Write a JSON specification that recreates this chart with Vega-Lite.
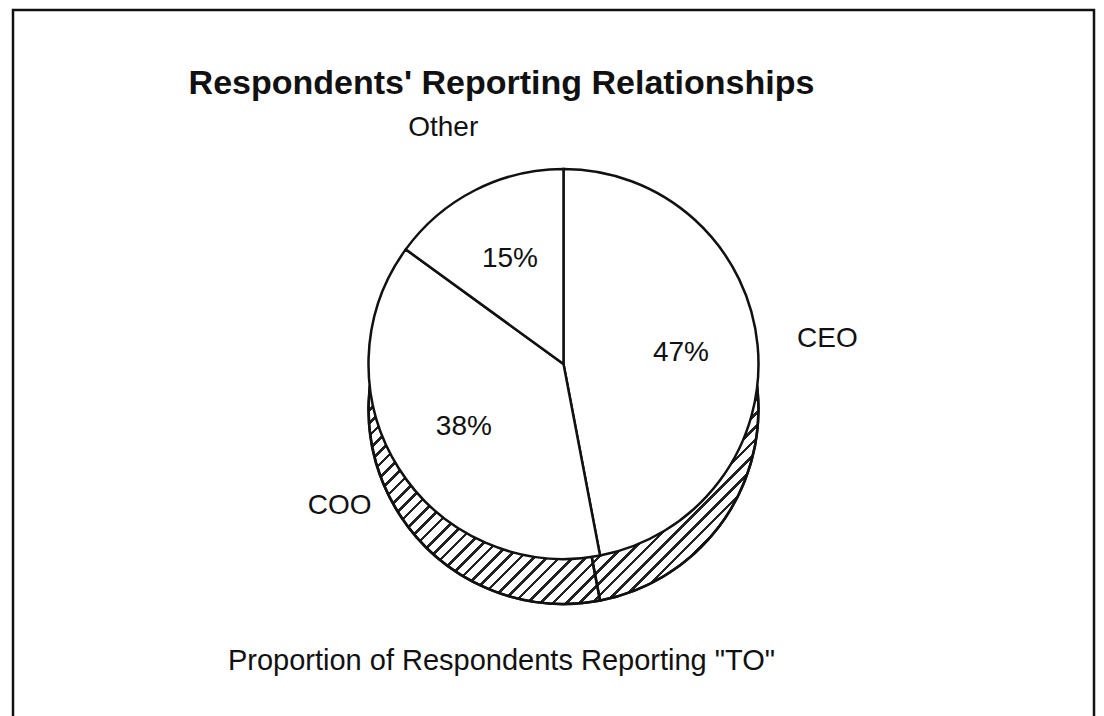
{
  "$schema": "https://vega.github.io/schema/vega-lite/v6.json",
  "width": 1104,
  "height": 716,
  "autosize": {"type": "fit", "contains": "padding"},
  "padding": {"left": 11, "top": 8, "right": 8, "bottom": -4},
  "background": "#ffffff",
  "title": {
    "text": "Respondents' Reporting Relationships",
    "subtitle": "Proportion of Respondents Reporting \"TO\"",
    "anchor": "middle",
    "dx": -52,
    "offset": -667,
    "font": "Liberation Sans",
    "fontSize": 34,
    "fontWeight": "bold",
    "color": "#111111",
    "subtitleFont": "Liberation Sans",
    "subtitleFontSize": 29,
    "subtitleColor": "#111111",
    "subtitlePadding": 546
  },
  "config": {"view": {"stroke": null}},
  "data": {
    "values": [
      {"role": "CEO", "share": 0.47},
      {"role": "COO", "share": 0.38},
      {"role": "Other", "share": 0.15}
    ]
  },
  "layer": [
    {
      "data": {"values": [{"frame": "border"}]},
      "mark": {"type": "rect", "fill": "#ffffff", "stroke": "#111111", "strokeWidth": 2.5},
      "encoding": {}
    },
    {
      "mark": {
        "type": "arc",
        "radius": 195,
        "yOffset": 45,
        "xOffset": 10,
        "stroke": "#111111",
        "strokeWidth": 2.5,
        "fill": {
          "gradient": "linear",
          "x1": 0, "y1": 0, "x2": 1, "y2": 1,
          "stops": [
            {"offset": 0, "color": "#fff"}, {"offset": 0.2167, "color": "#fff"},
            {"offset": 0.2167, "color": "#222"}, {"offset": 0.2212, "color": "#222"}, {"offset": 0.2212, "color": "#fff"}, {"offset": 0.2333, "color": "#fff"},
            {"offset": 0.2333, "color": "#222"}, {"offset": 0.2378, "color": "#222"}, {"offset": 0.2378, "color": "#fff"}, {"offset": 0.25, "color": "#fff"},
            {"offset": 0.25, "color": "#222"}, {"offset": 0.2545, "color": "#222"}, {"offset": 0.2545, "color": "#fff"}, {"offset": 0.2667, "color": "#fff"},
            {"offset": 0.2667, "color": "#222"}, {"offset": 0.2712, "color": "#222"}, {"offset": 0.2712, "color": "#fff"}, {"offset": 0.2833, "color": "#fff"},
            {"offset": 0.2833, "color": "#222"}, {"offset": 0.2878, "color": "#222"}, {"offset": 0.2878, "color": "#fff"}, {"offset": 0.3, "color": "#fff"},
            {"offset": 0.3, "color": "#222"}, {"offset": 0.3045, "color": "#222"}, {"offset": 0.3045, "color": "#fff"}, {"offset": 0.3167, "color": "#fff"},
            {"offset": 0.3167, "color": "#222"}, {"offset": 0.3212, "color": "#222"}, {"offset": 0.3212, "color": "#fff"}, {"offset": 0.3333, "color": "#fff"},
            {"offset": 0.3333, "color": "#222"}, {"offset": 0.3378, "color": "#222"}, {"offset": 0.3378, "color": "#fff"}, {"offset": 0.35, "color": "#fff"},
            {"offset": 0.35, "color": "#222"}, {"offset": 0.3545, "color": "#222"}, {"offset": 0.3545, "color": "#fff"}, {"offset": 0.3667, "color": "#fff"},
            {"offset": 0.3667, "color": "#222"}, {"offset": 0.3712, "color": "#222"}, {"offset": 0.3712, "color": "#fff"}, {"offset": 0.3833, "color": "#fff"},
            {"offset": 0.3833, "color": "#222"}, {"offset": 0.3878, "color": "#222"}, {"offset": 0.3878, "color": "#fff"}, {"offset": 0.4, "color": "#fff"},
            {"offset": 0.4, "color": "#222"}, {"offset": 0.4045, "color": "#222"}, {"offset": 0.4045, "color": "#fff"}, {"offset": 0.4167, "color": "#fff"},
            {"offset": 0.4167, "color": "#222"}, {"offset": 0.4212, "color": "#222"}, {"offset": 0.4212, "color": "#fff"}, {"offset": 0.4333, "color": "#fff"},
            {"offset": 0.4333, "color": "#222"}, {"offset": 0.4378, "color": "#222"}, {"offset": 0.4378, "color": "#fff"}, {"offset": 0.45, "color": "#fff"},
            {"offset": 0.45, "color": "#222"}, {"offset": 0.4545, "color": "#222"}, {"offset": 0.4545, "color": "#fff"}, {"offset": 0.4667, "color": "#fff"},
            {"offset": 0.4667, "color": "#222"}, {"offset": 0.4712, "color": "#222"}, {"offset": 0.4712, "color": "#fff"}, {"offset": 0.4833, "color": "#fff"},
            {"offset": 0.4833, "color": "#222"}, {"offset": 0.4878, "color": "#222"}, {"offset": 0.4878, "color": "#fff"}, {"offset": 0.5, "color": "#fff"},
            {"offset": 0.5, "color": "#222"}, {"offset": 0.5045, "color": "#222"}, {"offset": 0.5045, "color": "#fff"}, {"offset": 0.5167, "color": "#fff"},
            {"offset": 0.5167, "color": "#222"}, {"offset": 0.5212, "color": "#222"}, {"offset": 0.5212, "color": "#fff"}, {"offset": 0.5333, "color": "#fff"},
            {"offset": 0.5333, "color": "#222"}, {"offset": 0.5378, "color": "#222"}, {"offset": 0.5378, "color": "#fff"}, {"offset": 0.55, "color": "#fff"},
            {"offset": 0.55, "color": "#222"}, {"offset": 0.5545, "color": "#222"}, {"offset": 0.5545, "color": "#fff"}, {"offset": 0.5667, "color": "#fff"},
            {"offset": 0.5667, "color": "#222"}, {"offset": 0.5712, "color": "#222"}, {"offset": 0.5712, "color": "#fff"}, {"offset": 0.5833, "color": "#fff"},
            {"offset": 0.5833, "color": "#222"}, {"offset": 0.5878, "color": "#222"}, {"offset": 0.5878, "color": "#fff"}, {"offset": 0.6, "color": "#fff"},
            {"offset": 0.6, "color": "#222"}, {"offset": 0.6045, "color": "#222"}, {"offset": 0.6045, "color": "#fff"}, {"offset": 0.6167, "color": "#fff"},
            {"offset": 0.6167, "color": "#222"}, {"offset": 0.6212, "color": "#222"}, {"offset": 0.6212, "color": "#fff"}, {"offset": 0.6333, "color": "#fff"},
            {"offset": 0.6333, "color": "#222"}, {"offset": 0.6378, "color": "#222"}, {"offset": 0.6378, "color": "#fff"}, {"offset": 0.65, "color": "#fff"},
            {"offset": 0.65, "color": "#222"}, {"offset": 0.6545, "color": "#222"}, {"offset": 0.6545, "color": "#fff"}, {"offset": 0.6667, "color": "#fff"},
            {"offset": 0.6667, "color": "#222"}, {"offset": 0.6712, "color": "#222"}, {"offset": 0.6712, "color": "#fff"}, {"offset": 0.6833, "color": "#fff"},
            {"offset": 0.6833, "color": "#222"}, {"offset": 0.6878, "color": "#222"}, {"offset": 0.6878, "color": "#fff"}, {"offset": 0.7, "color": "#fff"},
            {"offset": 0.7, "color": "#222"}, {"offset": 0.7045, "color": "#222"}, {"offset": 0.7045, "color": "#fff"}, {"offset": 0.7167, "color": "#fff"},
            {"offset": 0.7167, "color": "#222"}, {"offset": 0.7212, "color": "#222"}, {"offset": 0.7212, "color": "#fff"}, {"offset": 0.7333, "color": "#fff"},
            {"offset": 0.7333, "color": "#222"}, {"offset": 0.7378, "color": "#222"}, {"offset": 0.7378, "color": "#fff"}, {"offset": 0.75, "color": "#fff"},
            {"offset": 0.75, "color": "#222"}, {"offset": 0.7545, "color": "#222"}, {"offset": 0.7545, "color": "#fff"}, {"offset": 0.7667, "color": "#fff"},
            {"offset": 0.7667, "color": "#222"}, {"offset": 0.7712, "color": "#222"}, {"offset": 0.7712, "color": "#fff"}, {"offset": 0.7833, "color": "#fff"},
            {"offset": 0.7833, "color": "#222"}, {"offset": 0.7878, "color": "#222"}, {"offset": 0.7878, "color": "#fff"}, {"offset": 0.8, "color": "#fff"},
            {"offset": 0.8, "color": "#222"}, {"offset": 0.8045, "color": "#222"}, {"offset": 0.8045, "color": "#fff"}, {"offset": 0.8167, "color": "#fff"},
            {"offset": 0.8167, "color": "#222"}, {"offset": 0.8212, "color": "#222"}, {"offset": 0.8212, "color": "#fff"}, {"offset": 0.8333, "color": "#fff"},
            {"offset": 0.8333, "color": "#222"}, {"offset": 0.8378, "color": "#222"}, {"offset": 0.8378, "color": "#fff"}, {"offset": 0.85, "color": "#fff"},
            {"offset": 0.85, "color": "#222"}, {"offset": 0.8545, "color": "#222"}, {"offset": 0.8545, "color": "#fff"}, {"offset": 0.8667, "color": "#fff"},
            {"offset": 0.8667, "color": "#222"}, {"offset": 0.8712, "color": "#222"}, {"offset": 0.8712, "color": "#fff"}, {"offset": 0.8833, "color": "#fff"},
            {"offset": 0.8833, "color": "#222"}, {"offset": 0.8878, "color": "#222"}, {"offset": 0.8878, "color": "#fff"}, {"offset": 1, "color": "#fff"}
          ]
        }
      },
      "encoding": {
        "theta": {"aggregate": "sum", "field": "share", "type": "quantitative", "stack": true}
      }
    },
    {
      "mark": {"type": "arc", "radius": 195, "yOffset": 45, "xOffset": 10, "fillOpacity": 0, "stroke": "#111111", "strokeWidth": 2.5},
      "encoding": {
        "theta": {"field": "share", "type": "quantitative", "stack": true},
        "order": {"field": "role", "type": "ordinal", "sort": "ascending"}
      }
    },
    {
      "mark": {"type": "arc", "radius": 195, "xOffset": 10, "fill": "#ffffff", "stroke": "#111111", "strokeWidth": 2.5},
      "encoding": {
        "theta": {"field": "share", "type": "quantitative", "stack": true},
        "order": {"field": "role", "type": "ordinal", "sort": "ascending"}
      }
    },
    {
      "mark": {"type": "text", "font": "Liberation Sans", "fontSize": 28, "color": "#111111", "xOffset": 10},
      "encoding": {
        "theta": {"field": "share", "type": "quantitative", "stack": true},
        "order": {"field": "role", "type": "ordinal", "sort": "ascending"},
        "radius": {"value": 118},
        "text": {"field": "share", "type": "quantitative", "format": ".0%"}
      }
    },
    {
      "mark": {"type": "text", "font": "Liberation Sans", "fontSize": 28, "color": "#111111", "xOffset": 10},
      "encoding": {
        "theta": {"field": "share", "type": "quantitative", "stack": true},
        "order": {"field": "role", "type": "ordinal", "sort": "ascending"},
        "radius": {"value": 265},
        "text": {"field": "role", "type": "nominal"}
      }
    }
  ]
}
